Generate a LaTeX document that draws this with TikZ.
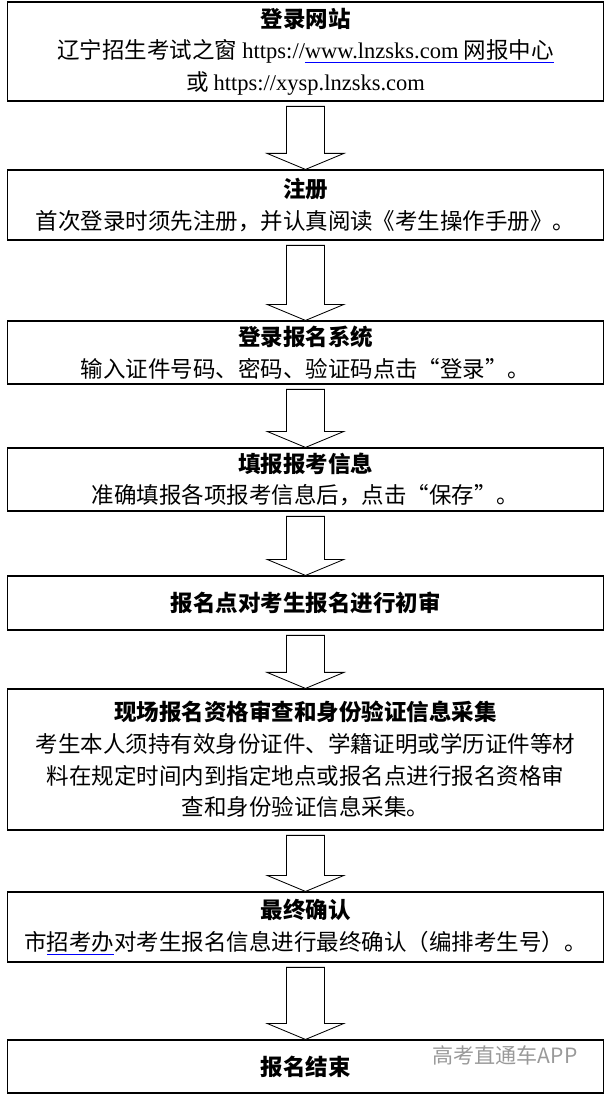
\documentclass[tikz,border=0pt]{standalone}
\usepackage{fontspec}
\setmainfont{Liberation Serif}
\newfontfamily\cjk{Noto Sans CJK SC}
\usetikzlibrary{calc}
\newcommand{\blu}[1]{{\color{blue}\underline{\color{black}#1}}}
\newcommand{\lat}[1]{{\fontspec{Liberation Serif}#1}}

\begin{document}
\begin{tikzpicture}[
        x=0.025cm, y=-0.025cm,
        stepbox/.style={rectangle, draw=black, line width=0.8pt, minimum width=14.875cm, align=center, font=\cjk\fontsize{16}{22.5}\selectfont},
        barrow/.style={draw=black, line width=0.6pt, fill=white}
    ]
        \useasboundingbox (0,0) rectangle (606,1095);
        % Steps
        \node[stepbox, minimum height=2.475cm] (login) at (305.5,51.5) {\textbf{登录网站}\\辽宁招生考试之窗 \lat{https://}\blu{\lat{www.lnzsks.com} 网报中心}\\或 \lat{https://xysp.lnzsks.com}};
        \node[stepbox, minimum height=1.75cm] (reg) at (305.5,205) {\textbf{注册}\\首次登录时须先注册，并认真阅读《考生操作手册》。};
        \node[stepbox, minimum height=1.575cm] (sys) at (305.5,352.5) {\textbf{登录报名系统}\\输入证件号码、密码、验证码点击“登录”。};
        \node[stepbox, minimum height=1.575cm] (fill) at (305.5,479.5) {\textbf{填报报考信息}\\准确填报各项报考信息后，点击“保存”。};
        \node[stepbox, minimum height=1.35cm] (check) at (305.5,603) {\textbf{报名点对考生报名进行初审}};
        \node[stepbox, minimum height=3.525cm] (site) at (305.5,759.5) {\textbf{现场报名资格审查和身份验证信息采集}\\考生本人须持有效身份证件、学籍证明或学历证件等材\\料在规定时间内到指定地点或报名点进行报名资格审\\查和身份验证信息采集。};
        \node[stepbox, minimum height=1.75cm] (final) at (305.5,927) {\textbf{最终确认}\\市\blu{招考办}对考生报名信息进行最终确认（编排考生号）。};
        \node[stepbox, minimum height=1.325cm] (done) at (305.5,1066.5) {\textbf{报名结束}};
        \node[font=\cjk\fontsize{15}{18}\selectfont, text=gray!80] (mark) at (505,1055) {高考直通车APP};

        % Block arrows
        \foreach \a/\b in {login/reg, reg/sys, sys/fill, fill/check, check/site, site/final, final/done}{
            \path let \p1=(\a.south), \p2=(\b.north) in
                [barrow] ($(\x1,\y1)+(-0.475cm,-0.12cm)$) -- ($(\x1,\y1)+(0.475cm,-0.12cm)$)
                -- ($(\x1,\y2)+(0.475cm,0.4cm)$) -- ($(\x1,\y2)+(0.96cm,0.4cm)$)
                -- (\x1,\y2) -- ($(\x1,\y2)+(-0.96cm,0.4cm)$)
                -- ($(\x1,\y2)+(-0.475cm,0.4cm)$) -- cycle;
        }
    \end{tikzpicture}
\end{document}
